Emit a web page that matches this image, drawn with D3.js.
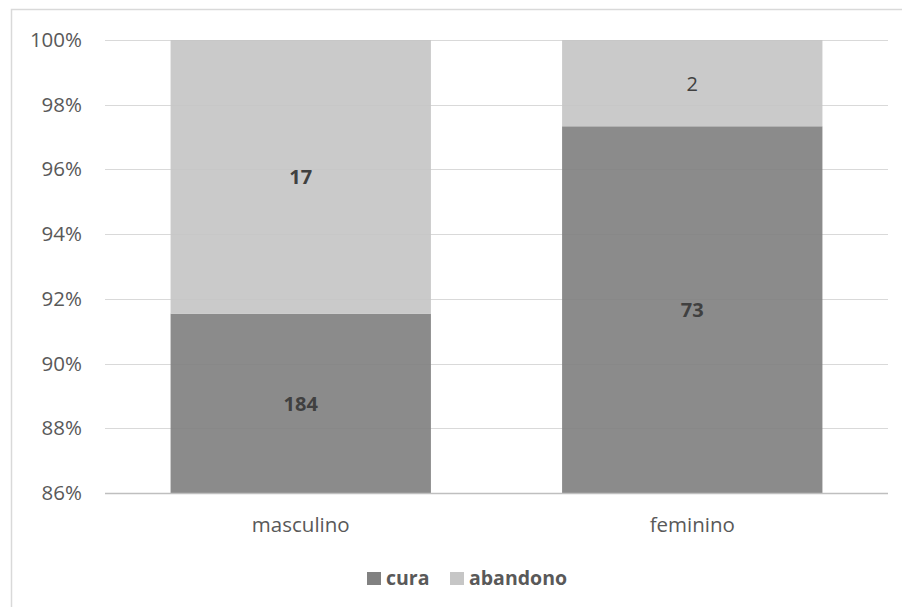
<!DOCTYPE html>
<html>
<head>
<meta charset="utf-8">
<script src="https://cdn.jsdelivr.net/npm/d3@7"></script>
<style>
  html, body { margin: 0; padding: 0; background: #fff; }
  svg { display: block; font-family: "Open Sans", "Noto Sans", sans-serif; }
</style>
</head>
<body>
<svg id="chart" width="902" height="607"></svg>
<script>
// Outcome counts by sex
const categories = ["masculino", "feminino"];
const seriesNames = ["cura", "abandono"];
const cura = [184, 73];
const abandono = [17, 2];
const yTicks = [0.86, 0.88, 0.90, 0.92, 0.94, 0.96, 0.98, 1.00];

const colors = { cura: "#818181", abandono: "#c6c6c6" };
// Count labels drawn in regular weight rather than bold
const regularLabels = new Set(["feminino|abandono"]);

const svg = d3.select("#chart");
const W = 902, H = 607;
const plot = { left: 105, right: 888, top: 40, bottom: 493 };

// Outer frame (top and left edges visible)
svg.append("rect")
  .attr("x", 11.5).attr("y", 9.5)
  .attr("width", W).attr("height", H)
  .attr("fill", "#fff").attr("stroke", "#d9d9d9").attr("stroke-width", 1.5);

const rows = categories.map((c, i) => {
  const total = cura[i] + abandono[i];
  return { category: c, cura: cura[i] / total, abandono: abandono[i] / total,
           counts: { cura: cura[i], abandono: abandono[i] } };
});
const stacked = d3.stack().keys(seriesNames)(rows);

const x = d3.scaleBand().domain(categories)
  .range([plot.left, plot.right]).paddingInner(0.335).paddingOuter(0.1675);
const y = d3.scaleLinear().domain([0.86, 1.0]).range([plot.bottom, plot.top]);

// Gridlines
svg.append("g").selectAll("line").data(yTicks.slice(1)).join("line")
  .attr("x1", plot.left).attr("x2", plot.right)
  .attr("y1", d => Math.round(y(d)) + 0.5).attr("y2", d => Math.round(y(d)) + 0.5)
  .attr("stroke", "#d9d9d9").attr("stroke-width", 1);

// Bars, clipped to the axis range
svg.append("clipPath").attr("id", "plotClip").append("rect")
  .attr("x", plot.left).attr("y", plot.top)
  .attr("width", plot.right - plot.left).attr("height", plot.bottom - plot.top);

const barG = svg.append("g").attr("clip-path", "url(#plotClip)");
stacked.forEach(layer => {
  barG.append("g").selectAll("rect").data(layer).join("rect")
    .attr("x", d => x(d.data.category))
    .attr("width", x.bandwidth())
    .attr("y", d => y(d[1]))
    .attr("height", d => y(d[0]) - y(d[1]))
    .attr("fill", colors[layer.key])
    .attr("fill-opacity", 0.92);
});

// Baseline at the bottom of the value axis
svg.append("line")
  .attr("x1", plot.left).attr("x2", plot.right)
  .attr("y1", Math.round(y(0.86)) + 0.5).attr("y2", Math.round(y(0.86)) + 0.5)
  .attr("stroke", "#bfbfbf").attr("stroke-width", 1.5);

// Count labels centred in the visible part of each segment
stacked.forEach(layer => {
  svg.append("g").selectAll("text").data(layer).join("text")
    .attr("x", d => x(d.data.category) + x.bandwidth() / 2)
    .attr("y", d => (y(Math.max(d[0], 0.86)) + y(d[1])) / 2)
    .attr("text-anchor", "middle")
    .attr("dominant-baseline", "central")
    .attr("font-size", 20)
    .attr("font-weight", d => regularLabels.has(d.data.category + "|" + layer.key) ? 400 : 700)
    .attr("fill", "#404040")
    .text(d => d.data.counts[layer.key]);
});

// Value axis labels
const yAxis = d3.axisLeft(y).tickValues(yTicks).tickFormat(d3.format(".0%")).tickSize(0).tickPadding(0);
svg.append("g").attr("transform", "translate(82,0)").call(yAxis)
  .call(g => g.select(".domain").remove())
  .call(g => g.selectAll("text")
    .attr("font-family", "'Open Sans', 'Noto Sans', sans-serif")
    .attr("font-size", 20.5).attr("fill", "#595959"));

// Category axis labels
const xAxis = d3.axisBottom(x).tickSize(0).tickPadding(0);
svg.append("g").attr("transform", "translate(0,517)").call(xAxis)
  .call(g => g.select(".domain").remove())
  .call(g => g.selectAll("text")
    .attr("font-family", "'Open Sans', 'Noto Sans', sans-serif")
    .attr("font-size", 20.5).attr("fill", "#595959"));

// Legend
const legend = svg.append("g");
const legendItems = [
  { key: "cura", sx: 367, tx: 386 },
  { key: "abandono", sx: 450, tx: 469 }
];
legendItems.forEach(it => {
  legend.append("rect").attr("x", it.sx).attr("y", 572).attr("width", 14).attr("height", 13)
    .attr("fill", colors[it.key]);
  legend.append("text").attr("x", it.tx).attr("y", 585)
    .attr("font-size", 19.5).attr("font-weight", 700).attr("fill", "#595959")
    .text(it.key);
});
</script>
</body>
</html>
